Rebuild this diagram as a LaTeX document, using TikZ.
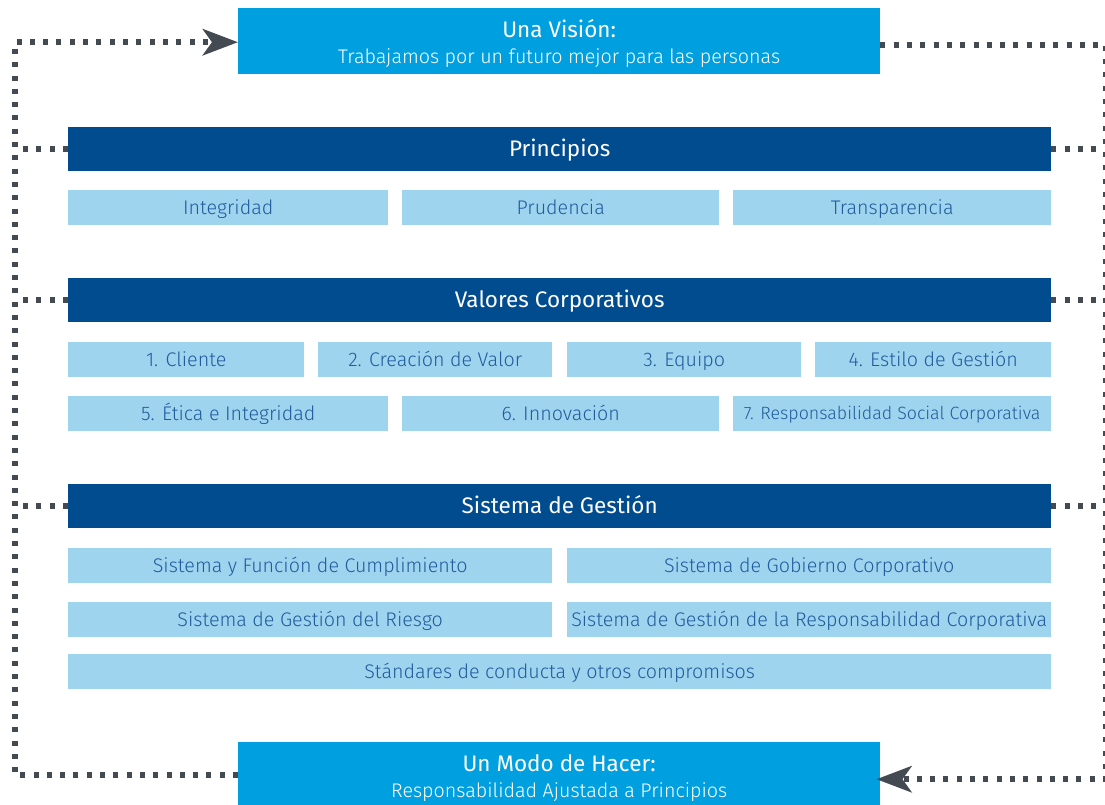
\documentclass[tikz,border=0pt]{standalone}
\usepackage{fontspec}
\setmainfont{Fira Sans}
\newfontfamily\lightfont{Fira Sans Light}
\usetikzlibrary{arrows.meta}

\definecolor{vivid}{RGB}{0,159,223}
\definecolor{navy}{RGB}{0,76,143}
\definecolor{pale}{RGB}{159,212,239}
\definecolor{inktext}{RGB}{32,92,158}
\definecolor{railgray}{RGB}{67,74,82}

\newcommand\subline[1]{{\lightfont\fontsize{19.7}{26}\selectfont #1}}

\tikzset{
  headbox/.style={fill=vivid, text=white, anchor=north west, inner sep=0pt, align=center,
    minimum width=642pt, font=\fontsize{22.5}{26}\selectfont},
  bar/.style={fill=navy, text=white, anchor=north west, inner sep=0pt, minimum height=44pt,
    minimum width=983pt, text height=15.5pt, text depth=0pt, font=\fontsize{22.5}{26}\selectfont},
  cell/.style={fill=pale, text=inktext, anchor=north west, inner sep=0pt, minimum height=35pt,
    text height=13.6pt, text depth=-0.5pt, font=\lightfont\fontsize{19.7}{23}\selectfont},
  rail/.style={draw=railgray, line width=6.5pt, dash pattern=on 5pt off 8.3pt},
  railtip/.style={-{Stealth[length=35pt, width=26pt, inset=9pt]}}
}

\begin{document}
\begin{tikzpicture}[x=1pt, y=-1pt]
	\useasboundingbox (0,0) rectangle (1105,804);

	% outer boxes
	\node[headbox, minimum height=66pt] (vision) at (238,8)
		{\rule{0pt}{23pt}Una Visión:\\\subline{Trabajamos por un futuro mejor para las personas}};
	\node[headbox, minimum height=72pt] (modo) at (238,742)
		{Un Modo de Hacer:\\\subline{Responsabilidad Ajustada a Principios}};

	% principios
	\node[bar] (princ) at (68,127) {Principios};
	\node[cell, minimum width=320pt] (p1) at (68,190) {Integridad};
	\node[cell, minimum width=317pt] (p2) at (402,190) {Prudencia};
	\node[cell, minimum width=318pt] (p3) at (733,190) {Transparencia};

	% valores
	\node[bar] (valor) at (68,278) {Valores Corporativos};
	\node[cell, minimum width=236pt] (v1) at (68,342) {1. Cliente};
	\node[cell, minimum width=234pt] (v2) at (318,342) {2. Creación de Valor};
	\node[cell, minimum width=234pt] (v3) at (567,342) {3. Equipo};
	\node[cell, minimum width=236pt] (v4) at (815,342) {4. Estilo de Gestión};
	\node[cell, minimum width=320pt] (v5) at (68,396) {5. Ética e Integridad};
	\node[cell, minimum width=317pt] (v6) at (402,396) {6. Innovación};
	\node[cell, minimum width=318pt, font=\lightfont\fontsize{17.8}{21}\selectfont, text height=12.3pt] (v7) at (733,396)
		{7. Responsabilidad Social Corporativa};

	% sistema de gestion
	\node[bar] (gest) at (68,484) {Sistema de Gestión};
	\node[cell, minimum width=484pt] (g1) at (68,548) {Sistema y Función de Cumplimiento};
	\node[cell, minimum width=484pt] (g2) at (567,548) {Sistema de Gobierno Corporativo};
	\node[cell, minimum width=484pt] (g3) at (68,602) {Sistema de Gestión del Riesgo};
	\node[cell, minimum width=484pt] (g4) at (567,602) {Sistema de Gestión de la Responsabilidad Corporativa};
	\node[cell, minimum width=983pt] (g5) at (68,654) {Stándares de conducta y otros compromisos};

	% dotted loop
	\coordinate (lrail) at (15,0);
	\coordinate (rrail) at (1106,0);
	\draw[rail, railtip] ([yshift=3pt]modo.west) -| ([yshift=-1pt]lrail |- vision.west) -- ([yshift=-1pt]vision.west);
	\draw[rail, railtip, shorten >=-4pt] ([yshift=-4pt]vision.east) -| ([yshift=-1pt]rrail |- modo.east) -- ([yshift=-1pt]modo.east);
	\foreach \b in {princ, valor, gest} {
		\draw[rail] (\b.west) -- (lrail |- \b.west);
		\draw[rail] (\b.east) -- (rrail |- \b.east);
	}
\end{tikzpicture}
\end{document}
